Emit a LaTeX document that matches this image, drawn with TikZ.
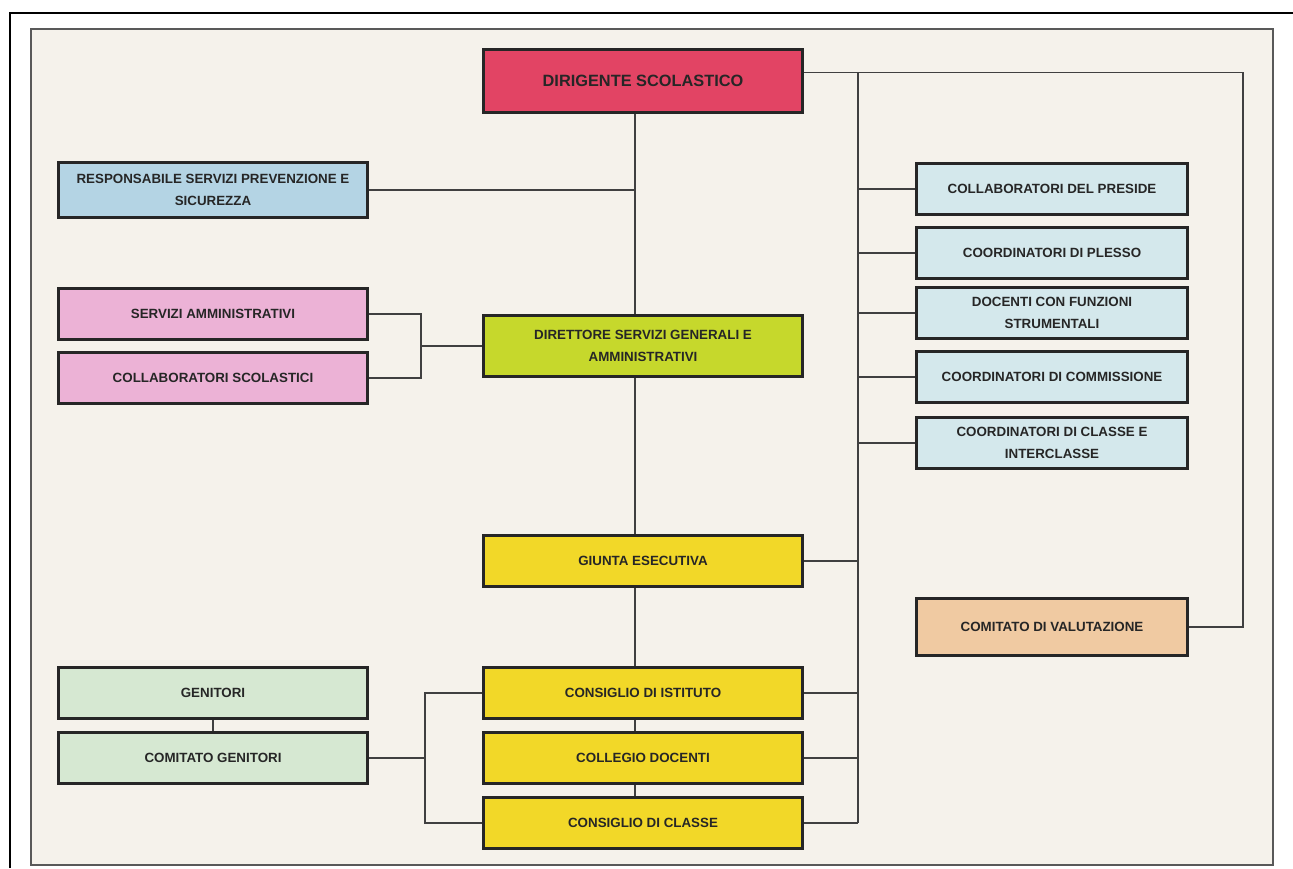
\documentclass[tikz,border=0pt]{standalone}
\usepackage{fontspec}
\setmainfont{Liberation Sans}
\usetikzlibrary{calc,positioning}
\definecolor{paper}{RGB}{245,242,235}
\definecolor{dsred}{RGB}{226,68,100}
\definecolor{rspblue}{RGB}{180,212,228}
\definecolor{ammpink}{RGB}{236,178,214}
\definecolor{dsgalime}{RGB}{198,216,44}
\definecolor{orggold}{RGB}{242,216,40}
\definecolor{rblue}{RGB}{212,232,236}
\definecolor{valpeach}{RGB}{240,202,162}
\definecolor{gensage}{RGB}{214,232,210}
\tikzstyle{link} = [line width=0.8pt, draw=black!75]

\begin{document}
\begin{tikzpicture}[x=0.02cm,y=-0.02cm]
\tikzset{box/.style={draw=black!85,line width=1.7pt,align=center,text=black!85,
  font=\fontsize{7.6}{12.5}\selectfont\bfseries,minimum height=29.5pt,inner sep=2pt},
  wide/.style={box,minimum width=182pt},
  sidebox/.style={box,minimum width=176pt},
  rbox/.style={box,minimum width=154pt,fill=rblue}}
\useasboundingbox (0,0) rectangle (1293,868);
\fill[white] (0,0) rectangle (1293,868);
\draw[black,line width=1pt] (10,868) -- (10,13) -- (1293,13);
\draw[fill=paper,draw=black!65,line width=1.4pt] (31,29) rectangle (1273,865);

% middle column
\node[wide,fill=dsred,minimum height=36pt,font=\fontsize{9.3}{11}\selectfont\bfseries] (ds) at (643,81) {DIRIGENTE SCOLASTICO};
\node[wide,fill=dsgalime,minimum height=35pt] (dsga) at (643,346) {DIRETTORE SERVIZI GENERALI E\\AMMINISTRATIVI};
\node[wide,fill=orggold] (giunta) at (643,561) {GIUNTA ESECUTIVA};
\node[wide,fill=orggold] (cist) at (643,693) {CONSIGLIO DI ISTITUTO};
\node[wide,fill=orggold] (cdoc) at (643,758) {COLLEGIO DOCENTI};
\node[wide,fill=orggold] (ccla) at (643,823) {CONSIGLIO DI CLASSE};

% left column
\node[sidebox,fill=rspblue,minimum height=31pt] (rspp) at (213,190) {RESPONSABILE SERVIZI PREVENZIONE E\\SICUREZZA};
\node[sidebox,fill=ammpink] (samm) at (213,314) {SERVIZI AMMINISTRATIVI};
\node[sidebox,fill=ammpink] (csco) at (213,378) {COLLABORATORI SCOLASTICI};
\node[sidebox,fill=gensage] (gen) at (213,693) {GENITORI};
\node[sidebox,fill=gensage] (cgen) at (213,758) {COMITATO GENITORI};

% right column
\foreach \n/\y/\t in {cpres/189/{COLLABORATORI DEL PRESIDE},
  cple/253/{COORDINATORI DI PLESSO},
  dfs/313/{DOCENTI CON FUNZIONI\\STRUMENTALI},
  ccom/377/{COORDINATORI DI COMMISSIONE},
  ccin/443/{COORDINATORI DI CLASSE E\\INTERCLASSE}}
  \node[rbox] (\n) at (1052,\y) {\t};
\node[rbox,fill=valpeach,minimum height=32pt] (cval) at (1052,627) {COMITATO DI VALUTAZIONE};

% buses
\coordinate (trunk) at (635,0);
\coordinate (rbus) at (858,0);
\coordinate (vbus) at (1243,0);
\coordinate (abus) at (421,0);
\coordinate (gbus) at (425,0);

\draw[link] (ds.south -| trunk) -- (dsga.north -| trunk);
\draw[link] (dsga.south -| trunk) -- (giunta.north -| trunk);
\foreach \a/\b in {giunta/cist,cist/cdoc,cdoc/ccla}
  \draw[link] (\a.south -| trunk) -- (\b.north -| trunk);
\draw[link] (rspp.east) -- (rspp.east -| trunk);

\draw[link] ([yshift=5pt]ds.east) -- ([yshift=5pt]ds.east -| vbus) -- (cval.east -| vbus) -- (cval.east);
\draw[link] ([yshift=5pt]ds.east -| rbus) -- (ccla.east -| rbus);
\foreach \n in {cpres,cple,dfs,ccom,ccin}
  \draw[link] (\n.west -| rbus) -- (\n.west);
\foreach \n in {giunta,cist,cdoc,ccla}
  \draw[link] (\n.east) -- (\n.east -| rbus);

\draw[link] (samm.east) -- (samm.east -| abus) -- (csco.east -| abus) -- (csco.east);
\draw[link] (dsga.west -| abus) -- (dsga.west);

\draw[link] (gen.south) -- (cgen.north);
\draw[link] (cgen.east) -- (cgen.east -| gbus);
\draw[link] (cist.west) -- (cist.west -| gbus) -- (ccla.west -| gbus) -- (ccla.west);
\end{tikzpicture}
\end{document}
